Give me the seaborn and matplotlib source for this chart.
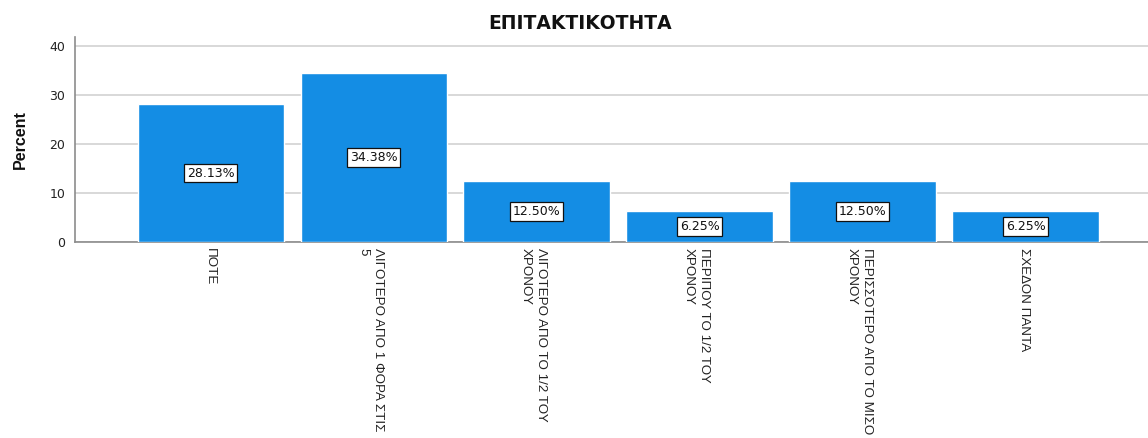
import matplotlib
matplotlib.use("Agg")
import matplotlib.pyplot as plt
import seaborn as sns
import pandas as pd

# Frequency table: share of respondents per answer
categories = [
    "ΠΟΤΕ",
    "ΛΙΓΟΤΕΡΟ ΑΠΟ 1 ΦΟΡΑ ΣΤΙΣ\n5",
    "ΛΙΓΟΤΕΡΟ ΑΠΟ ΤΟ 1/2 ΤΟΥ\nΧΡΟΝΟΥ",
    "ΠΕΡΙΠΟΥ ΤΟ 1/2 ΤΟΥ\nΧΡΟΝΟΥ",
    "ΠΕΡΙΣΣΟΤΕΡΟ ΑΠΟ ΤΟ ΜΙΣΟ\nΧΡΟΝΟΥ",
    "ΣΧΕΔΟΝ ΠΑΝΤΑ",
]
percent = [28.13, 34.38, 12.50, 6.25, 12.50, 6.25]
y_ticks = [0, 10, 20, 30, 40]
title = "ΕΠΙΤΑΚΤΙΚΟΤΗΤΑ"
y_label = "Percent"

sns.set_theme(style="white")
plt.rcParams["font.family"] = ["Liberation Sans", "DejaVu Sans"]

bar_color = "#148de4"

df = pd.DataFrame({"category": categories, "percent": percent})

fig = plt.figure(figsize=(11.48, 4.38), dpi=100)
ax = fig.add_axes([0.0653, 0.4475, 0.9347, 0.468])

sns.barplot(data=df, x="category", y="percent", color=bar_color,
            saturation=1, width=0.9, ax=ax, zorder=3)

ax.set_xlim(-0.834, 5.75)
ax.set_ylim(0, 41.8)
ax.set_yticks(y_ticks)

# Grid and frame
ax.yaxis.grid(True, color="#d6d6d6", linewidth=1.3, zorder=0)
ax.xaxis.grid(False)
for side in ("top", "right"):
    ax.spines[side].set_visible(False)
for side in ("left", "bottom"):
    ax.spines[side].set_color("#8c8c8c")
    ax.spines[side].set_linewidth(1.2)

ax.tick_params(axis="both", length=0)
ax.tick_params(axis="y", pad=7, labelsize=9, labelcolor="#222222")
for lbl in ax.get_yticklabels():
    lbl.set_fontfamily("DejaVu Sans")

ax.tick_params(axis="x", pad=4)
ax.set_xticks(range(len(categories)))
ax.set_xticklabels(categories, rotation=270, rotation_mode="anchor",
                   ha="left", va="center_baseline", fontsize=9.6,
                   family="Liberation Sans", color="#222222",
                   linespacing=1.35)

ax.set_xlabel("")
ax.set_ylabel(y_label, fontsize=11.5, fontweight="bold",
              family="Liberation Sans", color="#111111")
ax.yaxis.label.set_va("center")
ax.yaxis.set_label_coords((20 - 75) / (1148 - 75), 0.5)

# Value labels in the middle of each bar
ax.bar_label(ax.containers[0], labels=[f"{v:.2f}%" for v in percent],
             label_type="center", fontsize=9, family="DejaVu Sans",
             color="#111111",
             bbox=dict(boxstyle="square,pad=0.22", facecolor="white",
                       edgecolor="#111111", linewidth=0.9), zorder=5)

fig.suptitle(title, x=0.505, y=0.947, va="center", fontsize=13.5,
             fontweight="semibold", family="DejaVu Sans", color="#111111")

fig.savefig("out.png", dpi=100)
